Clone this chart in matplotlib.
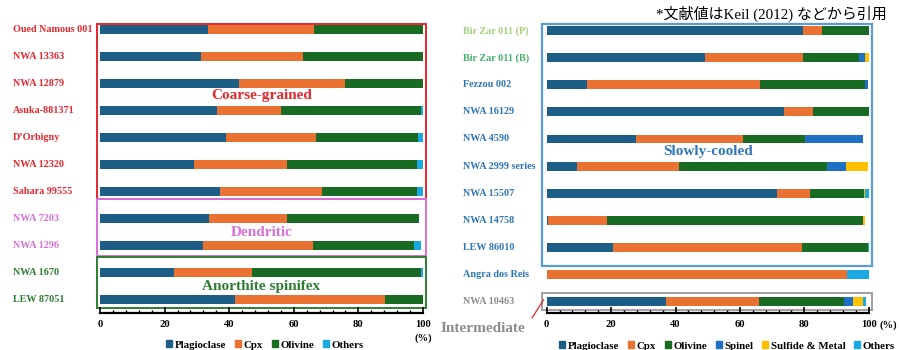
import numpy as np
import matplotlib.pyplot as plt
from matplotlib.patches import Rectangle, Patch
from matplotlib.ticker import MultipleLocator
from matplotlib.transforms import blended_transform_factory

plt.rcParams['font.family'] = ['Liberation Serif', 'Noto Sans CJK JP']

# modal abundances (%) - left panel
left_names = ['Oued Namous 001', 'NWA 13363', 'NWA 12879', 'Asuka-881371', 'D\u2019Orbigny',
              'NWA 12320', 'Sahara 99555', 'NWA 7203', 'NWA 1296', 'NWA 1670', 'LEW 87051']
left_plag = [33.5, 31.4, 43.0, 36.1, 39.0, 29.0, 37.2, 33.9, 32.0, 22.9, 41.9]
left_cpx = [32.6, 31.4, 33.0, 19.9, 28.0, 29.0, 31.6, 24.1, 33.9, 24.2, 46.3]
left_ol = [33.9, 37.2, 24.0, 43.4, 31.3, 40.1, 29.3, 40.9, 31.2, 52.3, 11.8]
left_oth = [0, 0, 0, 0.6, 1.7, 1.9, 1.9, 0, 2.3, 0.6, 0]

# right panel
right_names = ['Bir Zar 011 (P)', 'Bir Zar 011 (B)', 'Fezzou 002', 'NWA 16129', 'NWA 4590',
               'NWA 2999 series', 'NWA 15507', 'NWA 14758', 'LEW 86010', 'Angra dos Reis', 'NWA 10463']
right_plag = [79.7, 49.3, 12.4, 73.7, 27.7, 9.5, 71.6, 0.4, 20.7, 0, 36.9]
right_cpx = [5.8, 30.4, 53.9, 8.9, 33.2, 31.5, 10.2, 18.4, 58.6, 93.2, 29.1]
right_ol = [14.5, 17.4, 32.7, 17.4, 19.2, 46.0, 16.8, 79.5, 20.5, 0, 26.3]
right_spin = [0, 1.9, 0.8, 0, 18.0, 6.0, 0, 0, 0, 0, 2.9]
right_sulf = [0, 1.0, 0, 0, 0, 6.8, 0.4, 0.5, 0, 0, 2.9]
right_oth = [0, 0, 0, 0, 0, 0, 1.0, 0, 0.2, 6.8, 1.1]

c_plag, c_cpx, c_ol = '#1c5e86', '#e97132', '#196b24'
c_spin, c_sulf, c_oth = '#1f6fc5', '#ffc000', '#1aa8e3'

red, pink, green = '#e8262d', '#d870d8', '#2e7d32'
blue, gray = '#2e75b6', '#8c8c8c'

left_colors = [red] * 7 + [pink] * 2 + [green] * 2
right_colors = ['#a5d07c', '#43b26a'] + [blue] * 8 + [gray]

fig = plt.figure(figsize=(8.99, 3.5), dpi=100)
ax1 = fig.add_axes([100 / 899, 1 - 312.7 / 350, 323 / 899, 288.7 / 350])
ax2 = fig.add_axes([546.7 / 899, 1 - 312.7 / 350, 322 / 899, 288.7 / 350])


def stack(ax, series, colors, y):
    left = np.zeros(len(y))
    for vals, col in zip(series, colors):
        vals = np.array(vals)
        ax.barh(y, vals, left=left, height=0.33, color=col, edgecolor='none')
        left += vals


def style(ax):
    for s in ['top', 'right', 'left']:
        ax.spines[s].set_visible(False)
    ax.spines['bottom'].set_linewidth(1.6)
    ax.set_xlim(0, 100)
    ax.xaxis.set_major_locator(MultipleLocator(20))
    ax.xaxis.set_minor_locator(MultipleLocator(4))
    ax.tick_params(axis='x', which='major', direction='in', length=4, width=1.2, pad=5,
                   labelsize=7.6)
    ax.tick_params(axis='x', which='minor', direction='in', length=2.5, width=1)
    ax.set_yticks([])
    for lab in ax.get_xticklabels():
        lab.set_fontweight('bold')


# left panel
y1 = np.arange(len(left_names))
stack(ax1, [left_plag, left_cpx, left_ol, left_oth], [c_plag, c_cpx, c_ol, c_oth], y1)
ax1.set_ylim(10.5, -0.22)
style(ax1)
tr1 = blended_transform_factory(fig.transFigure, ax1.transData)
for i, (name, col) in enumerate(zip(left_names, left_colors)):
    ax1.text(12.7 / 899, i, name, transform=tr1, color=col, fontsize=7.3,
             fontweight='bold', va='center', ha='left')

for (y0, y1b, col) in [(-0.22, 6.29, red), (6.29, 8.4, pink), (8.44, 10.32, green)]:
    ax1.add_patch(Rectangle((-0.9, y0), 101.9, y1b - y0, fill=False, edgecolor=col,
                            lw=1.4, clip_on=False))
ax1.text(50, 2.45, 'Coarse-grained', color=red, fontsize=11, fontweight='bold',
         ha='center', va='center')
ax1.text(50, 7.51, 'Dendritic', color=pink, fontsize=11, fontweight='bold',
         ha='center', va='center')
ax1.text(50, 9.53, 'Anorthite spinifex', color=green, fontsize=11, fontweight='bold',
         ha='center', va='center')
ax1.text(100, -0.09, '(%)', transform=ax1.get_xaxis_transform(), fontsize=7.6,
         fontweight='bold', ha='center', va='center')

# right panel
y2 = np.arange(len(right_names))
stack(ax2, [right_plag, right_cpx, right_ol, right_spin, right_sulf, right_oth],
      [c_plag, c_cpx, c_ol, c_spin, c_sulf, c_oth], y2)
ax2.set_ylim(10.42, -0.25)
style(ax2)
tr2 = blended_transform_factory(fig.transFigure, ax2.transData)
for i, (name, col) in enumerate(zip(right_names, right_colors)):
    ax2.text(462.7 / 899, i, name, transform=tr2, color=col, fontsize=7.3,
             fontweight='bold', va='center', ha='left')

ax2.add_patch(Rectangle((-1.4, -0.25), 102.3, 8.95, fill=False, edgecolor='#5b9bd5',
                        lw=1.6, clip_on=False))
ax2.add_patch(Rectangle((-1.4, 9.68), 102.3, 0.64, fill=False, edgecolor='#a0a0a0',
                        lw=1.4, clip_on=False))
ax2.text(50, 4.45, 'Slowly-cooled', color=blue, fontsize=11, fontweight='bold',
         ha='center', va='center')
ax2.text(106, -0.045, '(%)', transform=ax2.get_xaxis_transform(), fontsize=7.6,
         fontweight='bold', ha='center', va='center')

fig.text(483 / 899, 1 - 328 / 350, 'Intermediate', color=gray, fontsize=11,
         fontweight='bold', ha='center', va='center')
ax2.annotate('', xy=(-0.5, 9.85), xytext=(-5, 10.7), annotation_clip=False,
             arrowprops=dict(arrowstyle='-', color='#e8262d', lw=0.9))

fig.text(887 / 899, 1 - 14 / 350, '*文献値はKeil (2012) などから引用', fontsize=10.8,
         ha='right', va='center')

# legends
h_left = [Patch(color=c) for c in [c_plag, c_cpx, c_ol, c_oth]]
fig.legend(h_left, ['Plagioclase', 'Cpx', 'Olivine', 'Others'], loc='center',
           bbox_to_anchor=(265 / 899, 5 / 350), ncol=4, frameon=False,
           prop={'weight': 'bold', 'size': 7.8}, handlelength=0.55, handleheight=0.55,
           handletextpad=0.25, columnspacing=0.8, borderpad=0)
h_right = [Patch(color=c) for c in [c_plag, c_cpx, c_ol, c_spin, c_sulf, c_oth]]
fig.legend(h_right, ['Plagioclase', 'Cpx', 'Olivine', 'Spinel', 'Sulfide & Metal', 'Others'],
           loc='center', bbox_to_anchor=(727 / 899, 4 / 350), ncol=6, frameon=False,
           prop={'weight': 'bold', 'size': 7.8}, handlelength=0.55, handleheight=0.55,
           handletextpad=0.25, columnspacing=0.8, borderpad=0)

fig.savefig('out.png', dpi=100)
